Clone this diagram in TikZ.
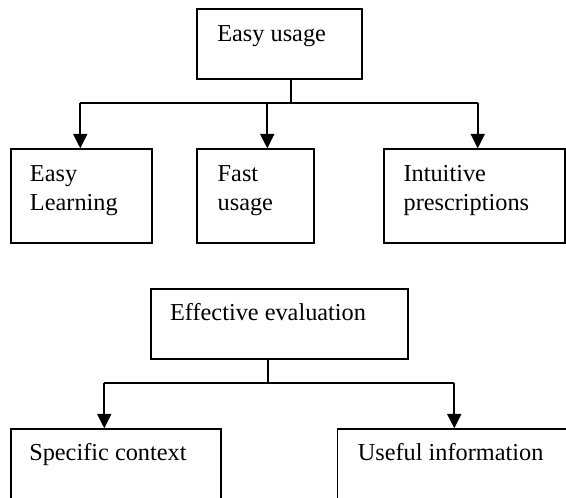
\documentclass[tikz,border=0pt]{standalone}
\usepackage{fontspec}
\setmainfont{Liberation Serif}
\usetikzlibrary{arrows.meta}
\begin{document}
\begin{tikzpicture}[x=1pt,y=-1pt,
  box/.style={draw=black,line width=1.8pt,rectangle,inner sep=0pt},
  txt/.style={anchor=base west,inner sep=0pt,align=left,font=\fontsize{24.3}{28.3}\selectfont},
  conn/.style={draw=black,line width=1.8pt},
  arr/.style={conn,-{Triangle[length=14.5pt,width=14pt]}}]
\useasboundingbox (0,0) rectangle (566,498);
% top tree boxes
\node[box,minimum width=164.4pt,minimum height=70pt] (eu) at (279.5,44) {};
\node[box,minimum width=141pt,minimum height=93.4pt] (el) at (81.2,196) {};
\node[box,minimum width=117.3pt,minimum height=93.4pt] (fu) at (255.35,196) {};
\node[box,minimum width=181pt,minimum height=93.4pt] (ip) at (474.5,196) {};
% bottom tree boxes
\node[box,minimum width=257pt,minimum height=70pt] (ee) at (279.2,324.3) {};
\node[box,minimum width=210.3pt,minimum height=80pt] (sc) at (115.85,469.3) {};
\node[box,minimum width=242.5pt,minimum height=80pt] (ui) at (458.75,469.3) {};
% texts (base anchor of a two-line node is its last line)
\node[txt] (teu) at ([shift={(20.7pt,-33.7pt)}]eu.north west) {Easy usage};
\node[txt] (tel) at ([shift={(20pt,-61.7pt)}]el.north west) {Easy\\Learning};
\node[txt] (tfu) at ([shift={(21.7pt,-61.7pt)}]fu.north west) {Fast\\usage};
\node[txt] (tip) at ([shift={(20.3pt,-61.7pt)}]ip.north west) {Intuitive\\prescriptions};
\node[txt] (tee) at ([shift={(20.1pt,-32.4pt)}]ee.north west) {Effective evaluation};
\node[txt] (tsc) at ([shift={(19.3pt,-32.4pt)}]sc.north west) {Specific context};
\node[txt] (tui) at ([shift={(21pt,-32.4pt)}]ui.north west) {Useful information};
% top connectors
\coordinate (tj) at (290.7,102.7);
\coordinate (tl) at (80.3,102.7);
\coordinate (tm) at (267.3,102.7);
\coordinate (tr) at (477.7,102.7);
\draw[conn] (eu.south -| tj) -- (tj);
\draw[conn] (tl) -- (tr);
\draw[arr] (tl) -- (tl |- el.north);
\draw[arr] (tm) -- (tm |- fu.north);
\draw[arr] (tr) -- (tr |- ip.north);
% bottom connectors
\coordinate (bj) at (268,382.7);
\coordinate (bl) at (104.3,382.7);
\coordinate (br) at (454.3,382.7);
\draw[conn] (ee.south -| bj) -- (bj);
\draw[conn] (bl) -- (br);
\draw[arr] (bl) -- (bl |- sc.north);
\draw[arr] (br) -- (br |- ui.north);
\end{tikzpicture}
\end{document}
